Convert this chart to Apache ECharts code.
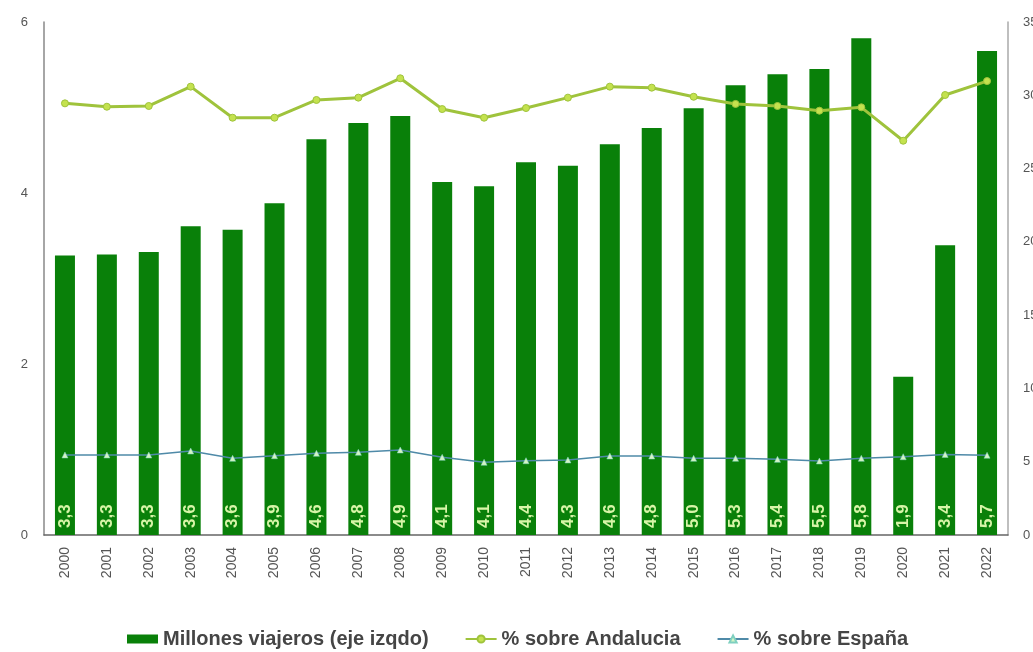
<!DOCTYPE html>
<html>
<head>
<meta charset="utf-8">
<script src="https://cdn.jsdelivr.net/npm/echarts@6/dist/echarts.min.js"></script>
<style>
  html, body { margin: 0; padding: 0; background: #fff; }
  #chart { width: 1033px; height: 652px; }
</style>
</head>
<body>
<div id="chart"></div>
<script>
// Años
const years = ['2000','2001','2002','2003','2004','2005','2006','2007','2008','2009','2010','2011',
               '2012','2013','2014','2015','2016','2017','2018','2019','2020','2021','2022'];
// Millones de viajeros (eje izquierdo)
const viajeros = [3.27, 3.28, 3.31, 3.61, 3.57, 3.88, 4.63, 4.82, 4.90, 4.13, 4.08, 4.36,
                  4.32, 4.57, 4.76, 4.99, 5.26, 5.39, 5.45, 5.81, 1.85, 3.39, 5.66];
// % sobre Andalucía (eje derecho)
const pctAndalucia = [29.45, 29.22, 29.27, 30.59, 28.47, 28.47, 29.68, 29.84, 31.16, 29.06, 28.47, 29.13,
                      29.84, 30.59, 30.52, 29.90, 29.41, 29.27, 28.95, 29.18, 26.90, 30.02, 30.97];
// % sobre España (eje derecho)
const pctEspana = [5.46, 5.46, 5.46, 5.73, 5.23, 5.41, 5.57, 5.64, 5.80, 5.30, 4.96, 5.07,
                   5.12, 5.39, 5.39, 5.23, 5.23, 5.16, 5.05, 5.23, 5.34, 5.50, 5.44];

const chart = echarts.init(document.getElementById('chart'), null, { renderer: 'canvas' });

const fontFamily = '"Liberation Sans", Arial, sans-serif';

chart.setOption({
  animation: false,
  backgroundColor: '#ffffff',
  textStyle: { fontFamily: fontFamily },
  grid: { left: 44, right: 25, top: 22, bottom: 117, containLabel: false, outerBoundsMode: 'none' },
  legend: {
    top: 624,
    left: 122,
    itemGap: 36,
    itemWidth: 31,
    itemHeight: 9,
    textStyle: { color: '#454545', fontSize: 20, fontWeight: 'bold', fontFamily: fontFamily },
    data: [
      { name: 'Millones viajeros (eje izqdo)', icon: 'rect' },
      { name: '% sobre Andalucia' },
      { name: '% sobre España' }
    ]
  },
  xAxis: {
    type: 'category',
    data: years,
    axisLine: { lineStyle: { color: '#666', width: 1.5 } },
    axisTick: { show: false },
    axisLabel: { rotate: 90, color: '#555', fontSize: 14, margin: 12 }
  },
  yAxis: [
    {
      type: 'value', min: 0, max: 6, interval: 2,
      axisLine: { show: true, lineStyle: { color: '#888', width: 1.5 } },
      axisTick: { show: false },
      splitLine: { show: false },
      axisLabel: { color: '#555', fontSize: 13, margin: 16 }
    },
    {
      type: 'value', min: 0, max: 35, interval: 5,
      axisLine: { show: true, lineStyle: { color: '#aaa', width: 1.5 } },
      axisTick: { show: false },
      splitLine: { show: false },
      axisLabel: { color: '#555', fontSize: 13, margin: 15 }
    }
  ],
  series: [
    {
      name: 'Millones viajeros (eje izqdo)',
      type: 'bar',
      yAxisIndex: 0,
      data: viajeros,
      barWidth: 20,
      itemStyle: { color: '#098009' },
      label: {
        show: true,
        position: 'insideBottom',
        rotate: 90,
        align: 'left',
        verticalAlign: 'middle',
        distance: 7,
        color: '#d8f5a8',
        fontSize: 17,
        fontWeight: 'bold',
        formatter: p => p.value.toFixed(1).replace('.', ',')
      },
      z: 2
    },
    {
      name: '% sobre Andalucia',
      type: 'line',
      yAxisIndex: 1,
      data: pctAndalucia,
      symbol: 'circle',
      symbolSize: 7,
      lineStyle: { color: '#9fc33c', width: 3 },
      itemStyle: { color: '#c4e24e', borderColor: '#9fc33c', borderWidth: 1 },
      z: 3
    },
    {
      name: '% sobre España',
      type: 'line',
      yAxisIndex: 1,
      data: pctEspana,
      symbol: 'triangle',
      symbolSize: 6,
      lineStyle: { color: '#4f8aa8', width: 1.5 },
      itemStyle: { color: '#d4f5c4', borderColor: '#7fd0c0', borderWidth: 0.5 },
      z: 3
    }
  ]
});
</script>
</body>
</html>
